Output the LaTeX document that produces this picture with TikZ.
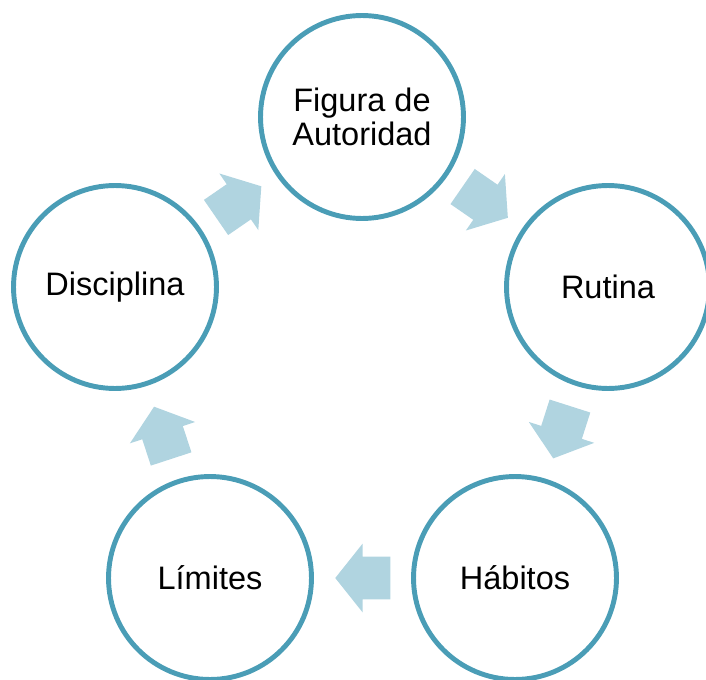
\documentclass[tikz,border=0pt]{standalone}
\usepackage{fontspec}
\setmainfont{Liberation Sans}
\usetikzlibrary{shapes.arrows}
\definecolor{ringblue}{HTML}{4A9DB6}
\definecolor{arrowblue}{HTML}{B0D4E0}
\tikzset{
  ring/.style={circle,draw=ringblue,line width=2.8pt,minimum size=4.06cm,inner sep=0pt,
    align=center,font=\fontsize{18.5}{19.5}\selectfont},
  blockarrow/.style={single arrow,fill=arrowblue,draw=none,inner sep=0pt,
    text height=0.42cm,text depth=0.42cm,minimum height=1.1cm,
    single arrow head extend=0.26cm,single arrow tip angle=103,sloped,allow upside down,pos=0.41}
}
\begin{document}
\begin{tikzpicture}[x=0.02cm,y=-0.02cm,line cap=round,line join=round]
  \useasboundingbox (0,0) rectangle (706,679);
  % the five steps
  \node[ring] (fig) at (362,117) {Figura de\\Autoridad};
  \node[ring] (rut) at (608,287) {Rutina};
  \node[ring] (hab) at (515,578) {Hábitos};
  \node[ring] (lim) at (210,578) {Límites};
  \node[ring] (disc) at (115,287) {Disciplina};

  % arrows of the cycle
  \path (fig) -- node[blockarrow] (a1) {} (rut);
  \path (rut) -- node[blockarrow] (a2) {} (hab);
  \path (hab) -- node[blockarrow] (a3) {} (lim);
  \path (lim) -- node[blockarrow] (a4) {} (disc);
  \path (disc) -- node[blockarrow] (a5) {} (fig);
\end{tikzpicture}
\end{document}
